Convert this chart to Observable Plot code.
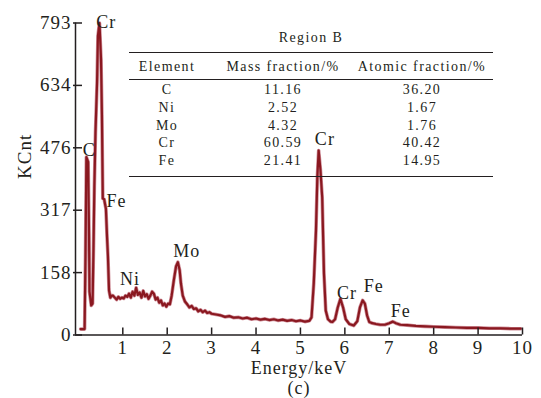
<!DOCTYPE html>
<html><head><meta charset="utf-8">
<script src="https://cdn.jsdelivr.net/npm/d3@7"></script>
<script src="https://cdn.jsdelivr.net/npm/@observablehq/plot@0.6"></script>
<style>
body{margin:0;background:#fff;}
#wrap{position:relative;width:541px;height:398px;font-family:"Liberation Serif","Times New Roman",serif;color:#231f20;overflow:hidden;}
#wrap svg{position:absolute;left:0;top:0;}
#wrap svg text{letter-spacing:1px;}
.t{position:absolute;white-space:nowrap;font-size:14px;letter-spacing:1.4px;transform:translate(-50%,-50%);line-height:1;}
.rule{position:absolute;height:0;border-top:1.5px solid #231f20;}
</style></head><body><div id="wrap"></div>
<script>
// Spectrum (energy in keV, counts in KCnt)
const energy = [0.05,0.14,0.16,0.18,0.22,0.24,0.25,0.29,0.32,0.34,0.36,0.385,0.42,0.44,0.475,0.51,0.53,0.55,0.58,0.62,0.645,0.665,0.69,0.72,0.75,
0.78,0.82,0.86,0.90,0.94,0.98,1.02,1.06,1.10,1.14,1.18,1.22,1.26,1.30,1.34,1.38,1.42,1.46,1.50,1.54,1.58,1.62,1.66,1.70,1.74,1.78,1.82,1.86,1.90,1.94,1.98,2.02,2.06,
2.10,2.15,2.20,2.24,2.28,2.31,2.35,2.40,2.45,2.50,2.55,2.60,2.65,2.70,2.75,2.80,2.85,2.90,2.95,3.00,3.10,3.20,3.30,3.40,3.50,3.60,3.70,3.80,3.90,4.00,4.10,4.20,4.30,4.40,4.50,4.60,4.70,4.80,4.90,5.00,5.10,5.20,
5.25,5.30,5.35,5.38,5.41,5.45,5.49,5.53,5.57,5.62,5.68,5.72,5.78,5.84,5.90,5.96,6.02,6.10,6.20,6.28,6.34,6.40,6.45,6.50,6.55,6.62,6.70,6.80,6.90,7.00,7.08,7.15,7.25,7.40,7.60,7.80,8.00,8.25,8.50,8.75,9.00,9.25,9.50,9.75,9.96];
const counts = [15,15,200,452,440,250,110,75,80,220,380,515,640,760,793,700,560,347,345,321,250,202,113,95,100,
100,95,90,97,92,95,93,100,97,105,95,110,100,120,102,108,95,112,98,104,92,100,110,105,90,95,82,88,75,80,72,80,78,
100,140,175,185,165,130,100,85,78,70,74,66,68,60,64,58,62,56,58,54,52,50,46,48,44,45,42,44,40,42,39,41,38,40,37,39,36,38,35,37,34,36,
45,131,266,400,469,420,350,156,62,40,34,33,40,70,92,70,40,28,24,35,70,88,80,50,33,30,28,26,26,30,34,30,26,25,23,22,21,20,19,18,18,17,17,16,16];

// Axes
const xDomain = [-0.065, 10];
const yDomain = [0, 793];
const xTicks = [1,2,3,4,5,6,7,8,9,10];
const yTicks = [0,158.6,317.2,475.8,634.4,793];
const yTickLabels = ["0","158","317","476","634","793"];
const xTitle = "Energy/keV";
const yTitle = "KCnt";
const panelTag = "(c)";

// Peak labels
const peakNames  = ["Cr","C","Fe","Ni","Mo","Cr","Cr","Fe","Fe"];
const peakEnergy = [0.63,0.245,0.86,1.16,2.44,5.55,6.05,6.65,7.26];
const peakCount  = [795,470,341,142,214,498,105,125,60];

// Table
const tableTitle = "Region B";
const tableHeaders = ["Element","Mass fraction/%","Atomic fraction/%"];
const elements = ["C","Ni","Mo","Cr","Fe"];
const massFraction = ["11.16","2.52","4.32","60.59","21.41"];
const atomicFraction = ["36.20","1.67","1.76","40.42","14.95"];

const spectrum = energy.map((e,i)=>({e, c: counts[i]}));
const peaks = peakNames.map((n,i)=>({n, e: peakEnergy[i], c: peakCount[i]}));

const W=541,H=398,mL=75,mR=19,mT=22.5,mB=63.5;
const innerW=W-mL-mR, innerH=H-mT-mB;
const ink="#231f20";

const chart = Plot.plot({
  width:W,height:H,marginLeft:mL,marginRight:mR,marginTop:mT,marginBottom:mB,
  style:{fontFamily:"'Liberation Serif', 'Times New Roman', serif",fontSize:"19px",color:ink,background:"transparent"},
  x:{domain:xDomain},
  y:{domain:yDomain},
  marks:[
    Plot.line(spectrum,{x:"e",y:"c",stroke:"#cf8f99",strokeWidth:3.6,strokeLinejoin:"round"}),
    Plot.line(spectrum,{x:"e",y:"c",stroke:"#8a1820",strokeWidth:2.2,strokeLinejoin:"round"}),
    Plot.ruleY([yDomain[0]],{stroke:ink,strokeWidth:1.5}),
    Plot.ruleX([xDomain[0]],{stroke:ink,strokeWidth:1.5}),
    Plot.tickX(xTicks,{x:d=>d,insetTop:innerH-7,stroke:ink,strokeWidth:1.5}),
    Plot.tickY(yTicks,{y:d=>d,insetLeft:-2,insetRight:innerW-7,stroke:ink,strokeWidth:1.5}),
    Plot.axisX(xTicks,{tickSize:0,tickPadding:5,label:null,fontSize:19,fill:ink}),
    Plot.axisY(yTicks,{tickSize:0,tickPadding:4,label:null,fontSize:19,fill:ink,tickFormat:d=>yTickLabels[yTicks.indexOf(d)]}),
    Plot.text(peaks,{x:"e",y:"c",text:"n",fontSize:18,fill:ink}),
    Plot.text([xTitle],{text:d=>d,frameAnchor:"bottom",dy:39,lineAnchor:"bottom",fontSize:18,fill:ink}),
    Plot.text([panelTag],{text:d=>d,frameAnchor:"bottom",dy:59,lineAnchor:"bottom",fontSize:18,fill:ink}),
    Plot.text([yTitle],{text:d=>d,frameAnchor:"left",dx:-51,rotate:-90,fontSize:19,fill:ink})
  ]
});
const wrap=document.getElementById("wrap");
wrap.appendChild(chart);

// table layout
const tbl={left:129,right:493,titleY:38,topRule:52,headY:66.5,midRule:79,row0:90,rowStep:17.8,bottomRule:176};
const colX=[167,283,422];
function addText(s,x,y){const d=document.createElement("div");d.className="t";d.textContent=s;d.style.left=x+"px";d.style.top=y+"px";wrap.appendChild(d);}
function addRule(y,w){const d=document.createElement("div");d.className="rule";d.style.left=tbl.left+"px";d.style.width=(tbl.right-tbl.left)+"px";d.style.top=y+"px";d.style.borderTopWidth=w+"px";wrap.appendChild(d);}
addText(tableTitle,(tbl.left+tbl.right)/2,tbl.titleY);
addRule(tbl.topRule,1.5);
tableHeaders.forEach((h,j)=>addText(h,colX[j],tbl.headY));
addRule(tbl.midRule,1);
elements.forEach((el,i)=>{
  const y=tbl.row0+i*tbl.rowStep;
  addText(el,colX[0],y);
  addText(massFraction[i],colX[1],y);
  addText(atomicFraction[i],colX[2],y);
});
addRule(tbl.bottomRule,1.5);
</script></body></html>
